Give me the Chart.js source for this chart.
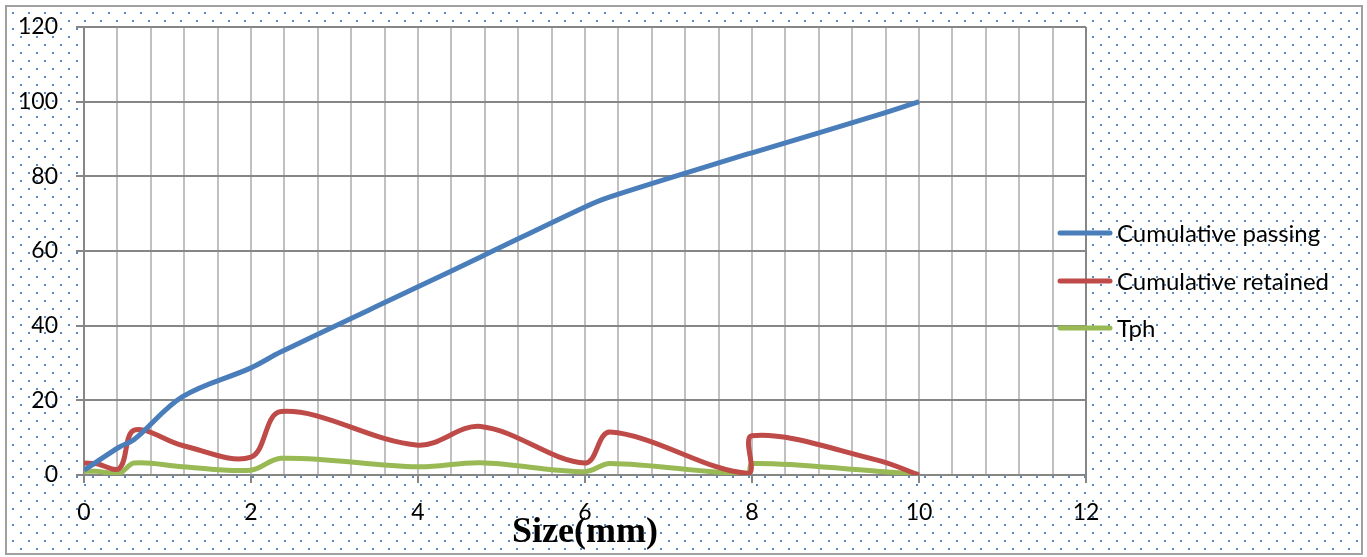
<!DOCTYPE html>
<html>
<head>
<meta charset="utf-8">
<script src="https://cdn.jsdelivr.net/npm/chart.js@4"></script>
<style>
  body { margin: 0; background: #fff; }
  #box { width: 1367px; height: 557px; }
</style>
</head>
<body>
<div id="box"><canvas id="grafico"></canvas></div>
<script>
// sieve sizes (mm) and the three series
const sizes    = [0,   0.15, 0.425, 0.6, 1.18, 2,    2.36, 4,    4.75, 6,    6.3,  7.95, 8,    9.5,  10];
const passing  = [1.3, 3.5,  7.5,   9.5, 21,   28.7, 33,   50.4, 58.4, 71.8, 74.5, 86,   86.3, 96.4, 100];
const retained = [3.2, 3.0,  1.8,   12,  7.9,  4.8,  17,   8,    13,   3.2,  11.5, 0.5,  10.5, 4,    0];
const tph      = [1.0, 1.0,  0.5,   3.2, 2.2,  1.3,  4.5,  2.2,  3.3,  0.9,  3.1,  0.4,  3.1,  1.0,  0.2];

const seriesNames = ['Cumulative passing', 'Cumulative retained', 'Tph'];
const seriesColors = ['#4a7ebb', '#be4b48', '#98b954'];

function pontos(valores) {
    return sizes.map((s, i) => ({ x: s, y: valores[i] }));
}

// dotted background of the chart frame
function padraoPontos(ctx) {
    const c = document.createElement('canvas');
    c.width = 16; c.height = 16;
    const p = c.getContext('2d');
    p.fillStyle = '#5a88c2';
    p.fillRect(4, 4, 2, 2);
    p.fillRect(12, 12, 2, 2);
    return ctx.createPattern(c, 'repeat');
}

const fundo = {
    id: 'fundo',
    beforeDraw(chart) {
        const ctx = chart.ctx;
        const a = chart.chartArea;
        ctx.save();
        ctx.fillStyle = '#fff';
        ctx.fillRect(0, 0, chart.width, chart.height);
        ctx.fillStyle = padraoPontos(ctx);
        ctx.fillRect(6, 6, 1356, 548);
        ctx.strokeStyle = '#a0a0a0';
        ctx.lineWidth = 2;
        ctx.strokeRect(6, 6, 1356, 548);
        ctx.fillStyle = '#fff';
        ctx.fillRect(a.left, a.top, a.right - a.left, a.bottom - a.top);
        ctx.restore();
    }
};

// legend drawn by hand so it can sit over the right edge of the plot
const legenda = {
    id: 'legenda',
    afterDraw(chart) {
        const ctx = chart.ctx;
        const linhasY = [233, 281, 328];
        ctx.save();
        chart.data.datasets.forEach((ds, i) => {
            ctx.strokeStyle = ds.borderColor;
            ctx.lineWidth = 5;
            ctx.lineCap = 'round';
            ctx.beginPath();
            ctx.moveTo(1060, linhasY[i]);
            ctx.lineTo(1110, linhasY[i]);
            ctx.stroke();
            ctx.fillStyle = '#000';
            ctx.font = '24px Lato';
            ctx.textBaseline = 'middle';
            ctx.fillText(ds.label, 1117, linhasY[i] + 1);
        });
        ctx.restore();
    }
};

const ctx = document.getElementById('grafico').getContext('2d');

new Chart(ctx, {
    type: 'line',
    data: {
        datasets: [passing, retained, tph].map((v, i) => ({
            label: seriesNames[i],
            data: pontos(v),
            borderColor: seriesColors[i],
            backgroundColor: seriesColors[i],
            borderWidth: 5,
            pointRadius: 0,
            tension: 0.35,
            fill: false
        }))
    },
    options: {
        responsive: true,
        maintainAspectRatio: false,
        animation: false,
        layout: { padding: { left: 0, top: 0, right: 281, bottom: 0 } },
        plugins: {
            legend: { display: false },
            tooltip: { enabled: false }
        },
        scales: {
            x: {
                type: 'linear',
                min: 0,
                max: 12,
                afterFit: (s) => { s.height = 82; },
                ticks: {
                    stepSize: 0.4,
                    maxTicksLimit: 100,
                    autoSkip: false,
                    maxRotation: 0,
                    padding: 16,
                    color: '#000',
                    font: { family: 'Lato', size: 23 },
                    callback: (v) => {
                        const r = Math.round(v);
                        return (Math.abs(v - r) < 1e-6 && r % 2 === 0) ? String(r) : '';
                    }
                },
                grid: {
                    lineWidth: 2,
                    tickLength: 8,
                    color: (c) => {
                        const v = c.tick ? c.tick.value : 0;
                        return (Math.abs(v - 12) < 1e-6 || Math.abs(v) < 1e-6) ? '#868686' : '#c0c0c0';
                    },
                    tickColor: (c) => {
                        const v = c.tick ? c.tick.value : 0;
                        const r = Math.round(v);
                        return (Math.abs(v - r) < 1e-6 && r % 2 === 0) ? '#868686' : 'rgba(0,0,0,0)';
                    }
                },
                border: { color: '#868686', width: 2 },
                title: {
                    display: true,
                    text: 'Size(mm)',
                    color: '#000',
                    font: { family: 'Liberation Serif', size: 36, weight: 'bold', lineHeight: 1.2 },
                    padding: { top: 0, bottom: 3 }
                }
            },
            y: {
                min: 0,
                max: 120,
                afterFit: (s) => { s.width = 84; s.paddingTop = 27; },
                ticks: {
                    stepSize: 20,
                    padding: 18,
                    color: '#000',
                    font: { family: 'Lato', size: 23 }
                },
                grid: {
                    lineWidth: 2,
                    tickLength: 8,
                    color: '#868686',
                    tickColor: '#868686'
                },
                border: { color: '#868686', width: 2 }
            }
        }
    },
    plugins: [fundo, legenda]
});
</script>
</body>
</html>
